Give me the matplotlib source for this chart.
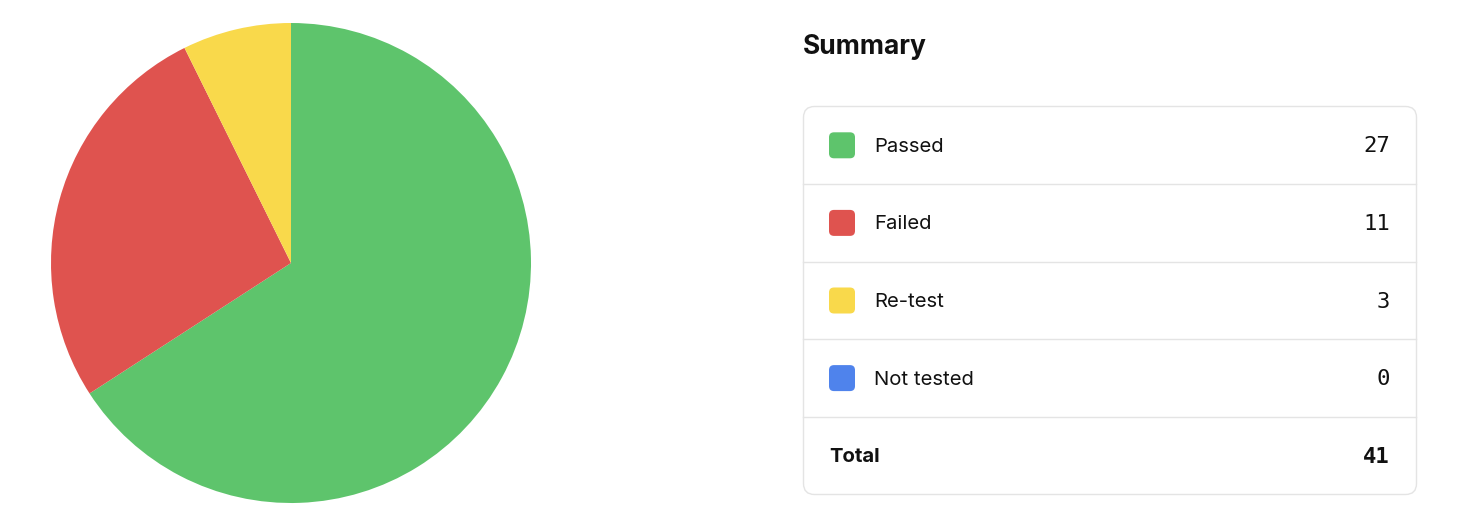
import matplotlib.pyplot as plt
from matplotlib.patches import FancyBboxPatch

# --- data ---
labels = ["Passed", "Failed", "Re-test", "Not tested"]
counts = [27, 11, 3, 0]
colors = ["#5ec46c", "#df534f", "#f9d94b", "#4f83ec"]
title = "Summary"
total_label = "Total"

W, H = 1470, 520
fig = plt.figure(figsize=(W / 100, H / 100), dpi=100)
fig.patch.set_facecolor("white")

# --- pie (left) ---
cx, cy, r = 291, 263, 240
pie_ax = fig.add_axes([(cx - r) / W, (H - cy - r) / H, 2 * r / W, 2 * r / H])
pie_ax.pie(counts, colors=colors, startangle=90, counterclock=False,
           radius=1, wedgeprops=dict(linewidth=0))
pie_ax.set_xlim(-1, 1)
pie_ax.set_ylim(-1, 1)
pie_ax.set_aspect("equal")
pie_ax.axis("off")

# --- summary table (right), drawn in pixel coords ---
ax = fig.add_axes([0, 0, 1, 1])
ax.set_xlim(0, W)
ax.set_ylim(H, 0)
ax.axis("off")

font = ["Inter", "DejaVu Sans"]
mono = "DejaVu Sans Mono"
border = "#e4e4e4"
ink = "#111111"

ax.text(803, 47, title, fontsize=19, fontweight="bold", family=font,
        va="center", ha="left", color=ink)

x0, x1, y0, y1 = 803.5, 1416.5, 106.5, 494.5
ax.add_patch(FancyBboxPatch((x0, y0), x1 - x0, y1 - y0,
                            boxstyle="round,pad=0,rounding_size=11",
                            fc="white", ec=border, lw=1.0))

row_h = (y1 - y0) / (len(labels) + 1)
for i, (lab, n, c) in enumerate(zip(labels, counts, colors)):
    yc = y0 + row_h * (i + 0.5)
    ax.add_patch(FancyBboxPatch((829, yc - 13), 26, 26,
                                boxstyle="round,pad=0,rounding_size=5",
                                fc=c, ec="none"))
    ax.text(874, yc + 1.5, lab, fontsize=14.6, family=font, va="center",
            ha="left", color=ink)
    ax.text(1390, yc + 1, str(n), fontsize=16, family=mono, va="center",
            ha="right", color=ink)
    ax.plot([x0, x1], [y0 + row_h * (i + 1)] * 2, color=border, lw=1.0)

yt = y0 + row_h * (len(labels) + 0.5)
ax.text(829, yt + 1.5, total_label, fontsize=14.6, fontweight="bold",
        family=font, va="center", ha="left", color=ink)
ax.text(1390, yt + 1, str(sum(counts)), fontsize=16, fontweight="bold",
        family=mono, va="center", ha="right", color=ink)

fig.savefig("out.png", dpi=100, facecolor="white")
